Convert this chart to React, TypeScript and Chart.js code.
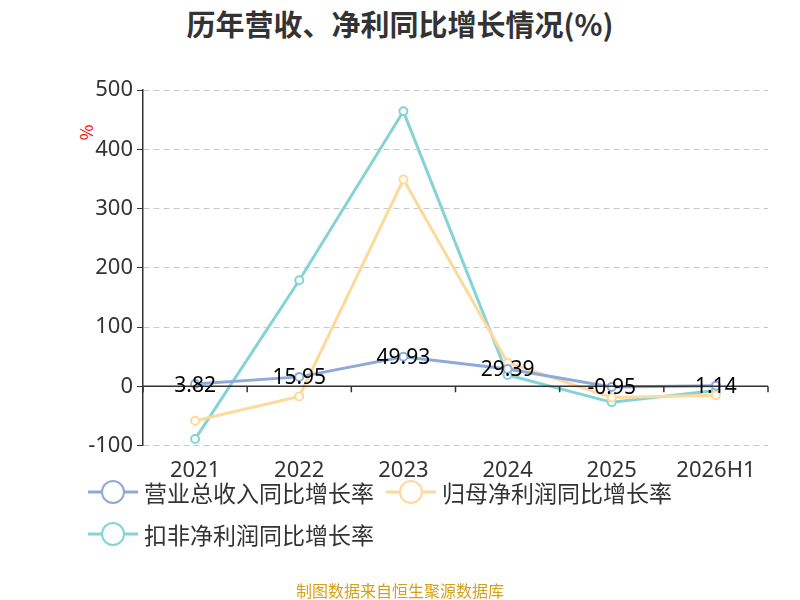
import React, { useEffect, useRef } from "react";
import { Chart, registerables } from "chart.js";
Chart.register(...registerables);

const categories = ["2021", "2022", "2023", "2024", "2025", "2026H1"];
const revenue = [3.82, 15.95, 49.93, 29.39, -0.95, 1.14];
const netProfit = [-58, -17, 349, 40, -19, -15];
const deductedProfit = [-89, 179, 464, 19, -27, -7];
const yTicks = [-100, 0, 100, 200, 300, 400, 500];
const names = ["营业总收入同比增长率", "归母净利润同比增长率", "扣非净利润同比增长率"];
const colors = ["#8eaadb", "#ffd99a", "#86d3d6"];

const zeroPlugin = {
  id: "zero",
  afterDatasetsDraw(chart: any) {
    const { ctx, chartArea, scales } = chart;
    const y0 = scales.y.getPixelForValue(0);
    ctx.save();
    ctx.strokeStyle = "#333";
    ctx.lineWidth = 1.5;
    ctx.beginPath();
    ctx.moveTo(chartArea.left, y0);
    ctx.lineTo(chartArea.right, y0);
    const n = categories.length;
    const w = (chartArea.right - chartArea.left) / n;
    for (let i = 0; i <= n; i++) {
      const x = chartArea.left + i * w;
      ctx.moveTo(x, y0);
      ctx.lineTo(x, y0 + 6);
    }
    ctx.stroke();
    ctx.fillStyle = "#000";
    ctx.font = "21px 'Noto Sans', sans-serif";
    ctx.textAlign = "center";
    ctx.textBaseline = "bottom";
    const meta = chart.getDatasetMeta(0);
    meta.data.forEach((p: any, i: number) => {
      ctx.fillText(String(revenue[i]), p.x, p.y + 12);
    });
    ctx.restore();
  },
};

export default function App() {
  const ref = useRef<HTMLCanvasElement>(null);
  useEffect(() => {
    const mk = (i: number, data: number[]) => ({
      label: names[i],
      data,
      borderColor: colors[i],
      backgroundColor: "#fff",
      borderWidth: 3,
      pointRadius: 4,
      pointBorderWidth: 2,
      pointBackgroundColor: "#fff",
      pointBorderColor: colors[i],
      tension: 0,
    });
    const chart = new Chart(ref.current!, {
      type: "line",
      data: {
        labels: categories,
        datasets: [mk(0, revenue), mk(1, netProfit), mk(2, deductedProfit)],
      },
      options: {
        animation: false,
        responsive: false,
        layout: { padding: { left: 0, right: 32, top: 90, bottom: 0 } },
        plugins: { legend: { display: false }, title: { display: false }, tooltip: { enabled: false } },
        scales: {
          x: {
            offset: true,
            grid: { display: false },
            border: { display: false },
            ticks: { color: "#333", font: { size: 22, family: "'Noto Sans', sans-serif" }, padding: 4 },
          },
          y: {
            min: -100,
            max: 500,
            afterFit: (s: any) => { s.width = 143; },
            afterBuildTicks: (s: any) => { s.ticks = yTicks.map((v) => ({ value: v })); },
            grid: { color: "#c8c8c8", tickColor: "#333", tickLength: 6, lineWidth: 1 },
            border: { display: true, color: "#333", width: 1.5, dash: [6, 4] },
            ticks: { color: "#333", font: { size: 22, family: "'Noto Sans', sans-serif" }, padding: 4 },
          },
        },
      },
      plugins: [zeroPlugin],
    });
    return () => chart.destroy();
  }, []);
  const item = (i: number) => (
    <span style={{ display: "inline-flex", alignItems: "center", marginRight: 12 }}>
      <svg width="50" height="28" style={{ marginRight: 6 }}>
        <line x1="0" y1="14" x2="50" y2="14" stroke={colors[i]} strokeWidth="3" />
        <circle cx="25" cy="14" r="11" fill="#fff" stroke={colors[i]} strokeWidth="2" />
      </svg>
      {names[i]}
    </span>
  );
  return (
    <div style={{ position: "fixed", left: 0, top: 0, width: 800, height: 600, background: "#fff", fontFamily: "'Noto Sans CJK SC', sans-serif" }}>
      <div style={{ position: "absolute", top: 2, width: 800, textAlign: "center", fontSize: 29, fontWeight: "bold", color: "#333" }}>
        历年营收、净利同比增长情况(%)
      </div>
      <div style={{ position: "absolute", left: 78, top: 120, color: "red", fontSize: 17, transform: "rotate(-90deg)" }}>%</div>
      <canvas ref={ref} width={800} height={488} style={{ position: "absolute", left: 0, top: 0 }} />
      <div style={{ position: "absolute", left: 88, top: 476, fontSize: 23, color: "#333", lineHeight: "32px" }}>
        <div>{item(0)}{item(1)}</div>
        <div style={{ marginTop: 6 }}>{item(2)}</div>
      </div>
      <div style={{ position: "absolute", top: 578, width: 800, textAlign: "center", fontSize: 16, color: "#d4a017" }}>
        制图数据来自恒生聚源数据库
      </div>
    </div>
  );
}
